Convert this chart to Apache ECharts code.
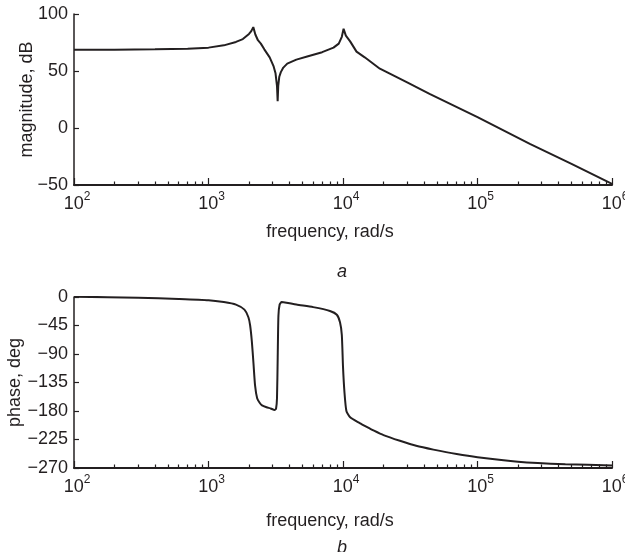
<!DOCTYPE html>
<html>
<head>
<meta charset="utf-8">
<script src="https://cdn.jsdelivr.net/npm/echarts@6/dist/echarts.min.js"></script>
<style>
html,body{margin:0;padding:0;background:#fff;}
#chart{width:625px;height:552px;}
</style>
</head>
<body>
<div id="chart"></div>
<script>
// ---- data ----
var magFreq = [100, 200, 400, 700, 1000, 1300, 1600, 1800, 2000, 2080, 2153, 2230, 2330, 2450, 2600, 2850, 3050, 3150, 3230, 3267, 3300, 3360, 3450, 3600, 3850, 4500, 5500, 7000, 8500, 9300, 9800, 10100, 10500, 11300, 12600, 14500, 18800, 30000, 44000, 100000, 245000, 500000, 1000000];
var magDb   = [68.7, 68.7, 69, 69.5, 70.5, 72.5, 75.5, 78, 82.5, 85, 88.5, 82, 77, 74, 69, 62, 54, 48, 37, 23.5, 37, 45, 49, 53, 56.5, 60, 63, 66.5, 70.5, 74, 80, 87, 81, 76, 67, 62, 52, 40, 30, 9.5, -14, -31.5, -49];

var phFreq = [100, 300, 600, 1000, 1300, 1600, 1850, 1980, 2040, 2100, 2160, 2220, 2300, 2400, 2500, 2700, 2900, 3100, 3180, 3230, 3270, 3310, 3380, 3500, 3800, 4500, 6000, 8000, 9000, 9500, 9800, 10000, 10250, 10600, 11300, 13300, 15000, 17000, 20000, 26500, 35000, 47000, 70000, 100000, 200000, 450000, 1000000];
var phDeg  = [0.5, -1, -3, -5, -8, -12, -20, -32, -45, -70, -105, -140, -160, -167, -171, -174, -176, -178.5, -176, -160, -95, -30, -12, -8, -9, -12, -16, -22, -28, -40, -60, -110, -150, -180, -190, -199, -205, -211, -218, -227, -235, -241, -248, -253, -260, -264, -266];

var freqMajorTicks = [100, 1000, 10000, 100000, 1000000];
var freqMinorTicks = [200,300,400,500,600,700,800,900,
                      2000,3000,4000,5000,6000,7000,8000,9000,
                      20000,30000,40000,50000,60000,70000,80000,90000,
                      200000,300000,400000,500000,600000,700000,800000,900000];
var magTicks = {min: -50, max: 100, interval: 50};
var phTicks  = {min: -270, max: 0, interval: 45};

// ---- chart ----
var INK = '#231f20';
var FONT = '"Liberation Sans", Arial, Helvetica, sans-serif';
function pairs(xs, ys){ return xs.map(function(x,i){ return [x, ys[i]]; }); }
function minus(v){ return String(v).replace('-', '\u2212'); }
function expLabel(v){
  var e = Math.round(Math.log(v)/Math.LN10);
  return '{b|10}{s|' + e + '}';
}

var grids = [
  {left: 74, right: 13, top: 14, height: 171, outerBoundsMode: 'none', containLabel: false},
  {left: 74, right: 13, top: 297, height: 171, outerBoundsMode: 'none', containLabel: false}
];

function majorX(gi){
  return {
    type: 'log', logBase: 10, gridIndex: gi, min: 100, max: 1000000, position: 'bottom',
    axisLine: {show: true, onZero: false, lineStyle: {color: INK, width: 2}},
    axisTick: {show: true, inside: true, length: 7, lineStyle: {color: INK, width: 1.2}, customValues: freqMajorTicks},
    axisLabel: {
      show: true, margin: 6, formatter: expLabel, customValues: freqMajorTicks,
      padding: [0, 0, 0, 6],
      rich: {
        b: {fontFamily: FONT, fontSize: 18, color: INK, lineHeight: 26},
        s: {fontFamily: FONT, fontSize: 12, color: INK, lineHeight: 12, verticalAlign: 'top'}
      }
    },
    splitLine: {show: false},
    minorTick: {show: false},
    name: 'frequency, rad/s', nameLocation: 'middle', nameGap: gi === 0 ? 38 : 44, nameMoveOverlap: false,
    nameTextStyle: {fontFamily: FONT, fontSize: 18, color: INK, padding: [0, 26, 0, 0]}
  };
}
function minorX(gi){
  return {
    type: 'log', logBase: 10, gridIndex: gi, min: 100, max: 1000000, position: 'bottom',
    axisLine: {show: false, onZero: false},
    axisTick: {show: true, inside: true, length: 3.5, lineStyle: {color: INK, width: 1.2}, customValues: freqMinorTicks},
    axisLabel: {show: false},
    splitLine: {show: false}
  };
}
function yAxis(gi, t, name, gap){
  return {
    type: 'value', gridIndex: gi, min: t.min, max: t.max, interval: t.interval, position: 'left',
    axisLine: {show: true, onZero: false, lineStyle: {color: INK, width: 1.5}},
    axisTick: {show: true, inside: true, length: 5, lineStyle: {color: INK, width: 1.2}},
    axisLabel: {show: true, margin: 6, formatter: minus, fontFamily: FONT, fontSize: 18, color: INK},
    splitLine: {show: false},
    name: name, nameLocation: 'middle', nameGap: gap, nameRotate: 90, nameMoveOverlap: false,
    nameTextStyle: {fontFamily: FONT, fontSize: 18, color: INK}
  };
}

var chart = echarts.init(document.getElementById('chart'), null, {renderer: 'canvas'});
chart.setOption({
  animation: false,
  backgroundColor: '#fff',
  grid: grids,
  xAxis: [majorX(0), minorX(0), majorX(1), minorX(1)],
  yAxis: [yAxis(0, magTicks, 'magnitude, dB', 38), yAxis(1, phTicks, 'phase, deg', 50)],
  series: [
    {type: 'line', xAxisIndex: 0, yAxisIndex: 0, data: pairs(magFreq, magDb), showSymbol: false, smooth: false,
     lineStyle: {color: INK, width: 2}},
    {type: 'line', xAxisIndex: 2, yAxisIndex: 1, data: pairs(phFreq, phDeg), showSymbol: false, smooth: 0.2,
     lineStyle: {color: INK, width: 2}}
  ],
  graphic: [
    {type: 'text', left: 337, top: 263, style: {text: 'a', font: 'italic 18px ' + FONT, fill: INK}},
    {type: 'text', left: 337, top: 539, style: {text: 'b', font: 'italic 18px ' + FONT, fill: INK}}
  ]
});
</script>
</body>
</html>
